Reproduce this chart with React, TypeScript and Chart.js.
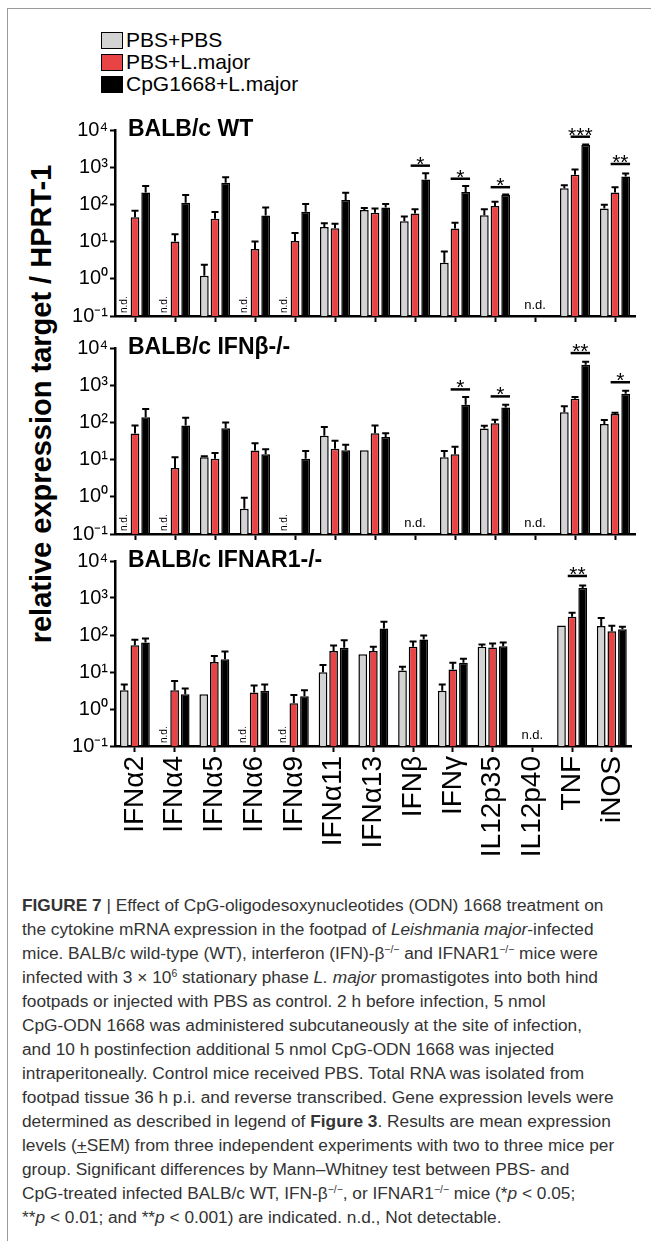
import React, { useEffect, useRef } from 'react';
import { Chart, registerables } from 'chart.js';

Chart.register(...registerables);

const FONT = '"Liberation Sans", Arial, Helvetica, sans-serif';

// ---------- data ----------
const categories = ['IFNα2', 'IFNα4', 'IFNα5', 'IFNα6', 'IFNα9', 'IFNα11', 'IFNα13', 'IFNβ', 'IFNγ', 'IL12p35', 'IL12p40', 'TNF', 'iNOS'];
const seriesNames = ['PBS+PBS', 'PBS+L.major', 'CpG1668+L.major'];
const seriesColors = ['#d3d3d3', '#e84446', '#000000'];
const yTickValues = [0.1, 1, 10, 100, 1000, 10000];
const yTickLabels = ['10⁻¹', '10⁰', '10¹', '10²', '10³', '10⁴'];
const panelTitles = ['BALB/c WT', 'BALB/c IFNβ-/-', 'BALB/c IFNAR1-/-'];

// BALB/c WT
const wtPbsPbs = [null, null, 1.2, null, null, 24.5, 71, 35, 2.7, 51, null, 270, 77];
const wtPbsPbsErr = [null, null, 2.4, null, null, 31, 80, 47, 5.4, 74, null, 325, 98];
const wtPbsLm = [45, 10, 41, 6.3, 10.4, 23, 60, 57, 22.5, 91, null, 630, 210];
const wtPbsLmErr = [68, 15.7, 62, 10, 17, 30, 77, 74, 32, 118, null, 870, 290];
const wtCpgLm = [210, 110, 380, 50, 63, 131, 83, 470, 215, 178, null, 3960, 560];
const wtCpgLmErr = [310, 178, 540, 83, 102, 205, 102, 690, 310, 185, null, 4100, 680];
const wtNdVertical = [0, 1, 3, 4];
const wtNdFlat = [10];
const wtSigIndex = [7, 8, 9, 11, 12];
const wtSigLevel = [1100, 490, 290, 6600, 1220];
const wtSigLabel = ['*', '*', '*', '***', '**'];

// BALB/c IFNb-/-
const ifnbPbsPbs = [null, null, 11.5, 0.48, null, 44, 17.8, null, 11.5, 69, null, 187, 90];
const ifnbPbsPbsErr = [null, null, 12.3, 0.95, null, 75, null, null, 17, 81, null, 270, 116];
const ifnbPbsLm = [50, 5.9, 10.5, 17.5, null, 19.5, 51, null, 14, 95, null, 435, 167];
const ifnbPbsLmErr = [83, 11.5, 15, 27.6, null, 32, 83, null, 22, 118, null, 480, 182];
const ifnbCpgLm = [138, 83, 70, 14, 10.5, 17.8, 40.7, null, 300, 250, null, 3550, 590];
const ifnbCpgLmErr = [230, 134, 100, 19, 17, 25, 51, null, 480, 300, null, 4270, 710];
const ifnbNdVertical = [0, 1, 4];
const ifnbNdFlat = [7, 10];
const ifnbSigIndex = [8, 9, 11, 12];
const ifnbSigLevel = [770, 500, 7300, 1200];
const ifnbSigLabel = ['*', '*', '**', '*'];

// BALB/c IFNAR1-/-
const ifnarPbsPbs = [3.2, null, 2.5, null, null, 9.8, 30, 11, 3.1, 48, null, 180, 174];
const ifnarPbsPbsErr = [4.6, null, null, null, null, 15.5, null, 13.8, 4.6, 55, null, null, 288];
const ifnarPbsLm = [53, 3.2, 18.6, 2.8, 1.43, 37, 37, 48, 11.7, 46, null, 310, 126];
const ifnarPbsLmErr = [74, 5.7, 27, 4.3, 2.4, 52, 48, 67, 17.8, 59, null, 400, 177];
const ifnarCpgLm = [63, 2.5, 22, 3.1, 2.2, 45, 150, 76, 17.8, 50, null, 1870, 144];
const ifnarCpgLmErr = [81, 3.6, 36, 4.6, 3.2, 72, 228, 97, 22.8, 63, null, 2190, 166];
const ifnarNdVertical = [1, 3, 4];
const ifnarNdFlat = [10];
const ifnarSigIndex = [11];
const ifnarSigLevel = [3940];
const ifnarSigLabel = ['**'];

// ---------- overlay plugin (error bars, significance, n.d., titles) ----------
const overlayPlugin = {
  id: 'overlay',
  afterDatasetsDraw(chart: any, _args: any, opts: any) {
    const ctx = chart.ctx;
    const ys = chart.scales.y;
    const xs = chart.scales.x;
    const area = chart.chartArea;
    ctx.save();
    ctx.strokeStyle = '#000';
    ctx.fillStyle = '#000';
    // error bars
    chart.data.datasets.forEach((ds: any, d: number) => {
      const meta = chart.getDatasetMeta(d);
      (ds.errorBars || []).forEach((e: number | null, i: number) => {
        if (e == null || ds.data[i] == null) return;
        const bar = meta.data[i];
        const yE = ys.getPixelForValue(e);
        ctx.lineWidth = 2;
        ctx.beginPath();
        ctx.moveTo(bar.x, bar.y);
        ctx.lineTo(bar.x, yE);
        ctx.moveTo(bar.x - 3.5, yE);
        ctx.lineTo(bar.x + 3.5, yE);
        ctx.stroke();
      });
    });
    // significance
    const redMeta = chart.getDatasetMeta(1);
    const blackMeta = chart.getDatasetMeta(2);
    (opts.sigIndex || []).forEach((idx: number, k: number) => {
      const r = redMeta.data[idx];
      const b = blackMeta.data[idx];
      const x1 = r.x - r.width / 2;
      const x2 = b.x + b.width / 2;
      const yL = ys.getPixelForValue(opts.sigLevel[k]);
      ctx.lineWidth = 2.5;
      ctx.beginPath();
      ctx.moveTo(x1, yL);
      ctx.lineTo(x2, yL);
      ctx.stroke();
      ctx.font = `21px ${FONT}`;
      ctx.textAlign = 'center';
      ctx.textBaseline = 'alphabetic';
      ctx.fillText(opts.sigLabel[k], (x1 + x2) / 2, yL + 5);
    });
    // n.d. vertical
    const grayMeta = chart.getDatasetMeta(0);
    ctx.font = `10px ${FONT}`;
    (opts.ndVertical || []).forEach((idx: number) => {
      const bx = grayMeta.data[idx].x;
      ctx.save();
      ctx.translate(bx, area.bottom - 3);
      ctx.rotate(-Math.PI / 2);
      ctx.textAlign = 'left';
      ctx.textBaseline = 'middle';
      ctx.fillText('n.d.', 0, 0);
      ctx.restore();
    });
    // n.d. flat
    ctx.font = `13px ${FONT}`;
    ctx.textAlign = 'center';
    ctx.textBaseline = 'middle';
    (opts.ndFlat || []).forEach((idx: number) => {
      ctx.fillText('n.d.', xs.getPixelForValue(idx), area.bottom - 11);
    });
    // panel title
    ctx.font = `bold 23px ${FONT}`;
    ctx.textAlign = 'left';
    ctx.textBaseline = 'alphabetic';
    ctx.fillText(opts.title, area.left + 13, area.top + 6);
    ctx.restore();
  },
};

type PanelProps = {
  top: number;
  bottom: number;
  showLabels: boolean;
  title: string;
  values: (number | null)[][];
  errors: (number | null)[][];
  ndVertical: number[];
  ndFlat: number[];
  sigIndex: number[];
  sigLevel: number[];
  sigLabel: string[];
};

const CANVAS_LEFT = 50;
const CANVAS_WIDTH = 600;
const PAD_TOP = 22;
const PAD_BOTTOM = 2;

function Panel(props: PanelProps) {
  const ref = useRef<HTMLCanvasElement | null>(null);
  const xAxisHeight = props.showLabels ? 132 : 12;
  const height = PAD_TOP + (props.bottom - props.top) + xAxisHeight + PAD_BOTTOM;

  useEffect(() => {
    if (!ref.current) return;
    const chart = new Chart(ref.current, {
      type: 'bar',
      data: {
        labels: categories,
        datasets: seriesNames.map((name, s) => ({
          label: name,
          data: props.values[s],
          errorBars: props.errors[s],
          backgroundColor: seriesColors[s],
          borderColor: '#000',
          borderWidth: 1.5,
          stack: 's' + s,
          categoryPercentage: 0.8,
          barPercentage: 0.82,
        })) as any,
      },
      options: {
        responsive: false,
        animation: false,
        events: [],
        layout: { padding: { top: PAD_TOP, bottom: PAD_BOTTOM, left: 0, right: 15 } },
        scales: {
          x: {
            type: 'category',
            offset: true,
            stacked: false,
            grid: { offset: false, drawOnChartArea: false, drawTicks: true, tickLength: 6, tickWidth: 2, tickColor: '#000' },
            border: { display: true, color: '#000', width: 2.5 },
            ticks: {
              display: props.showLabels,
              autoSkip: false,
              minRotation: 90,
              maxRotation: 90,
              padding: 4,
              color: '#000',
              font: { family: FONT, size: 28 },
            },
            afterFit: (scale: any) => {
              scale.height = xAxisHeight;
            },
          },
          y: {
            type: 'logarithmic',
            min: 0.1,
            max: 10000,
            stacked: false,
            afterBuildTicks: (scale: any) => {
              scale.ticks = yTickValues.map((v) => ({ value: v }));
            },
            afterFit: (scale: any) => {
              scale.width = 65;
            },
            grid: { drawOnChartArea: false, drawTicks: true, tickLength: 5, tickWidth: 2, tickColor: '#000' },
            border: { display: true, color: '#000', width: 2.5 },
            ticks: {
              color: '#000',
              padding: 2,
              font: { family: FONT, size: 20 },
              callback: (v: any) => {
                const i = yTickValues.indexOf(Number(v));
                return i >= 0 ? yTickLabels[i] : '';
              },
            },
          },
        },
        plugins: {
          legend: { display: false },
          tooltip: { enabled: false },
          overlay: {
            title: props.title,
            ndVertical: props.ndVertical,
            ndFlat: props.ndFlat,
            sigIndex: props.sigIndex,
            sigLevel: props.sigLevel,
            sigLabel: props.sigLabel,
          },
        } as any,
      },
      plugins: [overlayPlugin],
    });
    return () => chart.destroy();
  }, []);

  return (
    <canvas
      ref={ref}
      width={CANVAS_WIDTH}
      height={height}
      style={{ position: 'absolute', left: CANVAS_LEFT, top: props.top - PAD_TOP, width: CANVAS_WIDTH, height }}
    />
  );
}

const sup = (t: string) => <sup style={{ fontSize: '0.6em', lineHeight: 0, verticalAlign: '0.55em' }}>{t}</sup>;

export default function App() {
  const legendRows = seriesNames.map((name, i) => (
    <div key={name} style={{ position: 'absolute', left: 101, top: 29 + i * 22, height: 22, display: 'flex', alignItems: 'center' }}>
      <div style={{ width: 22, height: 17, boxSizing: 'border-box', border: '1.5px solid #000', background: seriesColors[i], marginRight: 3 }} />
      <span style={{ fontFamily: FONT, fontSize: 21, color: '#000', lineHeight: '22px' }}>{name}</span>
    </div>
  ));

  const captionLines: React.ReactNode[] = [
    <><b>FIGURE 7</b> | Effect of CpG-oligodesoxynucleotides (ODN) 1668 treatment on</>,
    <>the cytokine mRNA expression in the footpad of <i>Leishmania major</i>-infected</>,
    <>mice. BALB/c wild-type (WT), interferon (IFN)-β{sup('−/−')} and IFNAR1{sup('−/−')} mice were</>,
    <>infected with 3 × 10{sup('6')} stationary phase <i>L. major</i> promastigotes into both hind</>,
    <>footpads or injected with PBS as control. 2 h before infection, 5 nmol</>,
    <>CpG-ODN 1668 was administered subcutaneously at the site of infection,</>,
    <>and 10 h postinfection additional 5 nmol CpG-ODN 1668 was injected</>,
    <>intraperitoneally. Control mice received PBS. Total RNA was isolated from</>,
    <>footpad tissue 36 h p.i. and reverse transcribed. Gene expression levels were</>,
    <>determined as described in legend of <b>Figure 3</b>. Results are mean expression</>,
    <>levels (<u>+</u>SEM) from three independent experiments with two to three mice per</>,
    <>group. Significant differences by Mann–Whitney test between PBS- and</>,
    <>CpG-treated infected BALB/c WT, IFN-β{sup('−/−')}, or IFNAR1{sup('−/−')} mice (*<i>p</i> &lt; 0.05;</>,
    <>**<i>p</i> &lt; 0.01; and **<i>p</i> &lt; 0.001) are indicated. n.d., Not detectable.</>,
  ];

  return (
    <div style={{ position: 'absolute', left: 0, top: 0, width: 651, height: 1244, overflow: 'hidden', background: '#fff' }}>
      <div style={{ position: 'absolute', left: 7, top: 8, width: 644, height: 1232, borderTop: '1.5px solid #9a9a9a', borderLeft: '1.5px solid #9a9a9a' }} />
      {legendRows}
      <div
        style={{
          position: 'absolute',
          left: 41,
          top: 404,
          transform: 'translate(-50%, -50%) rotate(-90deg)',
          whiteSpace: 'nowrap',
          fontFamily: FONT,
          fontWeight: 'bold',
          fontSize: 29,
          color: '#000',
        }}
      >
        relative expression target / HPRT-1
      </div>
      <Panel top={130} bottom={316} showLabels={false} title={panelTitles[0]}
        values={[wtPbsPbs, wtPbsLm, wtCpgLm]} errors={[wtPbsPbsErr, wtPbsLmErr, wtCpgLmErr]}
        ndVertical={wtNdVertical} ndFlat={wtNdFlat} sigIndex={wtSigIndex} sigLevel={wtSigLevel} sigLabel={wtSigLabel} />
      <Panel top={348} bottom={534} showLabels={false} title={panelTitles[1]}
        values={[ifnbPbsPbs, ifnbPbsLm, ifnbCpgLm]} errors={[ifnbPbsPbsErr, ifnbPbsLmErr, ifnbCpgLmErr]}
        ndVertical={ifnbNdVertical} ndFlat={ifnbNdFlat} sigIndex={ifnbSigIndex} sigLevel={ifnbSigLevel} sigLabel={ifnbSigLabel} />
      <Panel top={561} bottom={746} showLabels={true} title={panelTitles[2]}
        values={[ifnarPbsPbs, ifnarPbsLm, ifnarCpgLm]} errors={[ifnarPbsPbsErr, ifnarPbsLmErr, ifnarCpgLmErr]}
        ndVertical={ifnarNdVertical} ndFlat={ifnarNdFlat} sigIndex={ifnarSigIndex} sigLevel={ifnarSigLevel} sigLabel={ifnarSigLabel} />
      <div style={{ position: 'absolute', left: 22, top: 893, fontFamily: FONT, fontSize: 17.3, lineHeight: '24px', color: '#333', whiteSpace: 'nowrap' }}>
        {captionLines.map((l, i) => (
          <div key={i}>{l}</div>
        ))}
      </div>
    </div>
  );
}
